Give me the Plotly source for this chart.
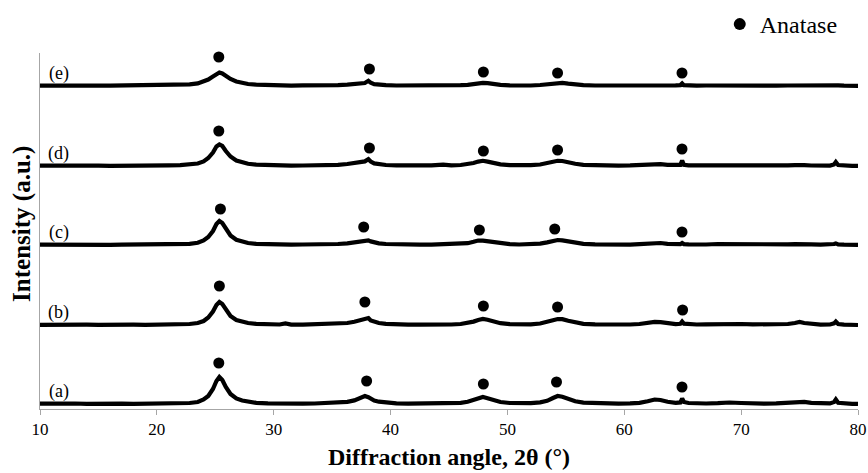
import plotly.graph_objects as go

# 2-theta grid (degrees)
two_theta = [
    10, 11, 12, 13, 14, 15, 16, 17, 18, 19,
    20, 21, 22, 22.8, 23.5, 24.0, 24.4, 24.8, 25.1, 25.35,
    25.6, 25.9, 26.3, 26.8, 27.3, 27.8, 28.5, 29.5, 30.5, 31.0,
    31.5, 32.5, 33.5, 34.5, 35.5, 36.3, 36.9, 37.4, 37.8, 38.1,
    38.3, 38.6, 39.0, 39.6, 40.5, 41.5, 42.5, 43.5, 44.5, 45.2,
    46.0, 46.6, 47.1, 47.5, 47.9, 48.3, 48.8, 49.4, 50.2, 51.0,
    52.0, 52.8, 53.4, 53.9, 54.3, 54.7, 55.2, 55.8, 56.5, 57.5,
    58.5, 59.5, 60.5, 61.3, 62.0, 62.6, 63.1, 63.7, 64.4, 64.8,
    64.95, 65.1, 65.5, 66.2, 67.0, 68.0, 69.0, 70.0, 71.0, 72.0,
    73.0, 74.0, 74.6, 75.0, 75.4, 76.0, 76.8, 77.6, 77.95, 78.1,
    78.3, 78.8, 79.5, 80,
]

intensity_a = [
    0.3, 0.6, 0.2, 0.5, 0.1, 0.4, 0.0, 0.3, 0.1, 0.2,
    0.0, 0.3, 0.6, 1.0, 2.0, 4.5, 8.0, 15.0, 23.0, 27.0,
    24.0, 17.0, 10.0, 5.5, 3.5, 2.2, 1.2, 0.6, 0.3, 0.5,
    0.2, 0.4, 0.5, 0.8, 1.3, 2.2, 3.6, 5.5, 8.0, 6.8,
    5.0, 3.5, 2.3, 1.3, 0.7, 0.4, 0.5, 0.3, 0.4, 0.6,
    1.2, 2.2, 3.8, 5.6, 7.0, 5.8, 3.6, 2.0, 1.0, 0.6,
    0.8, 1.6, 3.2, 6.0, 8.0, 7.2, 5.0, 2.8, 1.4, 0.7,
    0.4, 0.3, 0.6, 1.2, 2.8, 4.5, 4.0, 2.2, 1.2, 1.6,
    5.5, 2.0, 1.0, 0.6, 0.5, 0.8, 1.5, 1.0, 0.5, 0.4,
    0.6, 1.2, 2.2, 2.6, 2.2, 1.2, 0.5, 0.6, 2.0, 4.5,
    1.2, 0.4, 0.2, 0.1,
]

intensity_b = [
    0.2, 0.5, 0.3, 0.1, 0.4, 0.2, 0.5, 0.1, 0.3, 0.2,
    0.4, 0.2, 0.5, 1.0, 2.0, 4.0, 7.5, 13.5, 20.0, 23.0,
    21.0, 15.0, 9.0, 5.0, 3.2, 2.0, 1.2, 0.6, 0.5, 1.5,
    0.4, 0.3, 0.5, 0.7, 1.2, 2.0, 3.2, 5.0, 6.5, 7.0,
    4.5, 3.0, 2.0, 1.2, 0.6, 0.3, 0.4, 0.2, 0.3, 0.5,
    1.0, 2.0, 3.4, 5.0, 6.0, 5.2, 3.2, 1.8, 0.9, 0.5,
    0.7, 1.5, 2.8, 4.8, 6.0, 5.8, 4.2, 2.4, 1.2, 0.6,
    0.4, 0.3, 0.5, 1.0, 2.2, 3.2, 2.8, 1.6, 0.9, 1.2,
    3.5, 1.4, 0.8, 0.5, 0.6, 1.0, 1.2, 1.0, 0.6, 0.4,
    0.5, 1.0, 2.0, 3.0, 2.0, 1.0, 0.4, 0.5, 1.6, 3.5,
    1.0, 0.3, 0.1, 0.0,
]

intensity_c = [
    0.4, 0.2, 0.5, 0.3, 0.1, 0.4, 0.2, 0.3, 0.5, 0.2,
    0.3, 0.5, 0.6, 1.1, 2.2, 4.5, 8.0, 14.0, 21.0, 24.0,
    22.0, 16.0, 9.5, 5.2, 3.2, 2.0, 1.2, 0.7, 0.5, 0.4,
    0.3, 0.5, 0.4, 0.7, 1.0, 1.6, 2.6, 4.0, 5.0, 4.6,
    3.6, 2.6, 1.7, 1.0, 0.5, 0.3, 0.4, 0.3, 0.5, 0.6,
    1.0, 1.8, 3.2, 4.5, 4.3, 3.6, 2.4, 1.4, 0.8, 0.5,
    0.7, 1.4, 2.6, 4.2, 5.0, 4.6, 3.4, 2.0, 1.1, 0.6,
    0.3, 0.2, 0.4, 0.8, 1.5, 2.2, 2.0, 1.2, 0.7, 0.8,
    2.0, 0.9, 0.6, 0.4, 0.5, 1.0, 0.8, 0.6, 0.4, 0.3,
    0.4, 0.6, 0.9, 1.1, 0.9, 0.6, 0.3, 0.4, 1.0, 1.6,
    0.6, 0.3, 0.2, 0.1,
]

intensity_d = [
    0.3, 0.5, 0.2, 0.4, 0.6, 0.3, 0.2, 0.5, 0.3, 0.4,
    0.5, 0.7, 0.9, 1.4, 2.5, 4.6, 8.0, 13.5, 19.5, 21.5,
    20.0, 15.0, 9.5, 5.5, 3.5, 2.2, 1.3, 0.8, 0.6, 0.5,
    0.4, 0.5, 0.6, 0.8, 1.2, 2.0, 3.0, 4.0, 4.6, 6.8,
    4.5, 2.6, 1.8, 1.0, 0.6, 0.4, 0.5, 0.6, 1.4, 0.6,
    1.0, 1.8, 3.0, 4.4, 5.2, 4.4, 2.8, 1.6, 0.9, 0.6,
    0.8, 1.5, 2.8, 4.4, 5.2, 5.0, 3.6, 2.2, 1.2, 0.7,
    0.5, 0.4, 0.6, 1.0, 1.6, 2.0, 1.8, 1.1, 0.7, 1.2,
    5.5, 1.2, 0.6, 0.4, 0.5, 0.6, 0.7, 0.5, 0.4, 0.3,
    0.4, 0.6, 0.9, 1.1, 0.9, 0.5, 0.3, 0.4, 1.6, 4.0,
    1.0, 0.3, 0.2, 0.1,
]

intensity_e = [
    0.4, 0.2, 0.5, 0.3, 0.6, 0.4, 0.3, 0.5, 0.2, 0.4,
    0.5, 0.6, 1.0, 1.6, 2.6, 4.2, 6.5, 9.5, 12.0, 13.5,
    12.5, 10.0, 7.0, 4.5, 3.0, 2.0, 1.3, 0.8, 0.6, 0.5,
    0.4, 0.6, 0.5, 0.7, 0.9, 1.4, 2.0, 2.6, 3.0, 5.2,
    3.2, 1.8, 1.2, 0.8, 0.5, 0.4, 0.5, 0.4, 0.6, 0.5,
    0.8, 1.2, 2.0, 2.8, 3.2, 2.8, 1.8, 1.1, 0.6, 0.4,
    0.5, 1.0, 1.8, 2.8, 3.4, 3.2, 2.4, 1.4, 0.8, 0.5,
    0.4, 0.5, 0.6, 1.0, 0.8, 0.7, 0.6, 0.5, 0.6, 0.9,
    2.6, 0.8, 0.5, 0.4, 0.5, 0.3, 0.4, 0.5, 0.3, 0.4,
    0.3, 0.5, 0.6, 0.7, 0.6, 0.4, 0.3, 0.4, 0.9, 1.5,
    0.6, 0.3, 0.2, 0.1,
]

sample_labels = ["(a)", "(b)", "(c)", "(d)", "(e)"]
sample_offsets = [5, 84, 164, 243, 323]   # vertical stacking offsets (a.u.)

# Anatase reflection markers (2-theta, marker height in a.u.)
anatase_x = [
    [25.3, 37.95, 47.94, 54.2, 64.94],
    [25.35, 37.8, 47.94, 54.29, 64.99],
    [25.44, 37.7, 47.6, 54.05, 64.94],
    [25.3, 38.19, 47.94, 54.29, 64.94],
    [25.3, 38.19, 47.94, 54.29, 64.94],
]
anatase_y = [
    [46, 28, 25, 27, 22],
    [123, 107, 103, 102, 99],
    [200, 182, 179, 180, 177],
    [278, 261, 258, 259, 260],
    [352, 340, 337, 336, 336],
]

x_ticks = [10, 20, 30, 40, 50, 60, 70, 80]

FONT = "Liberation Serif"
series = [intensity_a, intensity_b, intensity_c, intensity_d, intensity_e]
assert all(len(s) == len(two_theta) for s in series)

fig = go.Figure()
for lab, off, ys in zip(sample_labels, sample_offsets, series):
    fig.add_trace(go.Scatter(
        x=two_theta, y=[v + off for v in ys], mode="lines",
        line=dict(color="black", width=4.2), showlegend=False, name=lab,
        hoverinfo="skip",
    ))

for i, (ax, ay) in enumerate(zip(anatase_x, anatase_y)):
    fig.add_trace(go.Scatter(
        x=ax, y=ay, mode="markers", name="Anatase",
        marker=dict(color="black", size=11, symbol="circle"),
        showlegend=(i == 0), cliponaxis=False,
    ))

for lab, off in zip(sample_labels, sample_offsets):
    fig.add_annotation(x=11.6, y=off + 13, text=lab, showarrow=False,
                       font=dict(family=FONT, size=18, color="black"),
                       xanchor="center", yanchor="middle")

# y-axis title
fig.add_annotation(xref="paper", yref="paper", x=0, y=0.52, xshift=-18,
                   text="Intensity (a.u.)", textangle=-90, showarrow=False,
                   xanchor="center", yanchor="middle",
                   font=dict(family=FONT, size=25, color="black", weight="bold"))

fig.update_layout(
    width=868, height=473,
    margin=dict(l=40, r=10, t=53, b=64, autoexpand=False),
    paper_bgcolor="white", plot_bgcolor="white",
    font=dict(family=FONT, color="black"),
    legend=dict(x=0.831, y=1.08, xanchor="left", yanchor="middle",
                font=dict(family=FONT, size=24, color="black"),
                bgcolor="rgba(0,0,0,0)", itemsizing="constant"),
    xaxis=dict(
        range=[10, 80], tickmode="array", tickvals=x_ticks,
        ticktext=[str(t) for t in x_ticks], automargin=False,
        showline=True, linecolor="#a6a6a6", linewidth=1,
        ticks="outside", ticklen=5, tickcolor="#a6a6a6",
        showgrid=False, zeroline=False,
        tickfont=dict(family=FONT, size=17, color="black"),
        title=dict(text="Diffraction angle, 2θ (°)",
                   font=dict(family=FONT, size=24, color="black", weight="bold"),
                   standoff=9),
    ),
    yaxis=dict(
        range=[0, 356], showline=True, linecolor="#a6a6a6", linewidth=1,
        ticks="", showticklabels=False, showgrid=False, zeroline=False,
        automargin=False,
    ),
)

fig.write_html("out.html")
